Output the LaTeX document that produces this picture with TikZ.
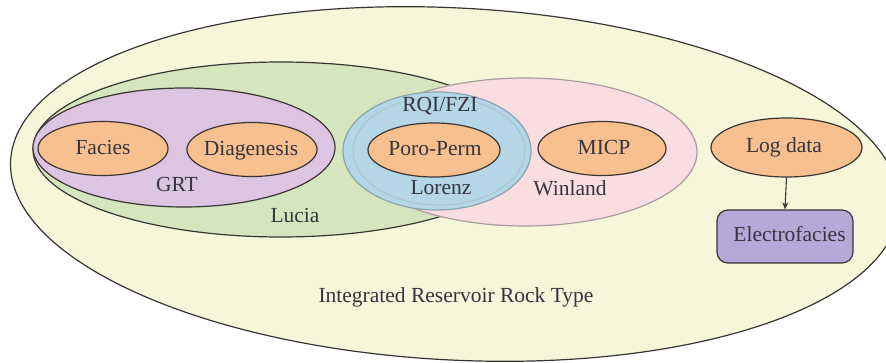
\documentclass[tikz,border=0pt]{standalone}
\usepackage{fontspec}
\setmainfont{Liberation Serif}
\usetikzlibrary{shapes.geometric,arrows.meta}
\definecolor{outerfill}{HTML}{F5F6DA}
\definecolor{luciafill}{HTML}{D5E6BE}
\definecolor{grtfill}{HTML}{DCC4E2}
\definecolor{pinkfill}{HTML}{F9DDE1}
\definecolor{bluefill}{HTML}{B4D6E6}
\definecolor{orangefill}{HTML}{F8C08F}
\definecolor{efill}{HTML}{B5A9D9}
\definecolor{txt}{HTML}{35343F}
\definecolor{dark}{HTML}{3A3535}
\definecolor{pinkline}{HTML}{A89C9E}
\definecolor{blueline}{HTML}{8AA5AE}
\definecolor{bluering}{HTML}{A8C4CC}
\begin{document}
\begin{tikzpicture}[x=1pt,y=-1pt,
  region/.style={ellipse, draw=dark, line width=1.2pt, inner sep=0pt},
  oval/.style={ellipse, draw=dark, fill=orangefill, line width=1.2pt, inner sep=0pt, minimum width=130pt, minimum height=54pt},
  lbl/.style={anchor=base, inner sep=0pt, text=txt, font=\fontsize{21.5}{24}\selectfont},
  boxstyle/.style={rectangle, rounded corners=11pt, draw=dark, fill=efill, line width=1.2pt, minimum width=136pt, minimum height=53pt, inner sep=0pt}
]
\useasboundingbox (0,0) rectangle (886,363);
\clip (0,0) rectangle (886,363);
\node[region, fill=outerfill, minimum width=890pt, minimum height=352pt, rotate=-3] (irrt) at (455,184) {};
\node[region, fill=luciafill, minimum width=496pt, minimum height=175pt] (lucia) at (281,149.5) {};
\node[region, fill=grtfill, minimum width=302pt, minimum height=119pt] (grt) at (184,147.5) {};
\node[region, draw=pinkline, fill=pinkfill, minimum width=344pt, minimum height=148pt] (winland) at (525,152) {};
\node[region, draw=blueline, fill=bluefill, minimum width=188pt, minimum height=118pt] (rqi) at (437,151) {};
\node[region, draw=bluering, line width=1pt, minimum width=172pt, minimum height=108pt] (lorenz) at (439,151) {};
\node[oval] (facies) at (103,148.5) {};
\node[oval] (diag) at (252,149.5) {};
\node[oval, minimum width=132pt] (poro) at (434,150) {};
\node[oval, minimum width=128pt] (micp) at (602,148.5) {};
\node[oval, minimum width=151pt, minimum height=59pt] (logd) at (786.5,147.5) {};
\node[boxstyle] (ef) at (785,236.5) {};
\draw[line width=1.1pt, draw=dark, -{Stealth[length=7pt,width=6pt]}] (logd.south) -- (ef.north);
\node[lbl] (tfacies) at (103,155) {Facies};
\node[lbl] (tdiag) at (251,156) {Diagenesis};
\node[lbl] (tgrt) at (177,192) {GRT};
\node[lbl] (tlucia) at (295,223) {Lucia};
\node[lbl] (trqi) at (440,112) {RQI/FZI};
\node[lbl] (tporo) at (435,156) {Poro-Perm};
\node[lbl] (tlorenz) at (441,195) {Lorenz};
\node[lbl] (twin) at (570,196) {Winland};
\node[lbl] (tmicp) at (604,155) {MICP};
\node[lbl] (tlog) at (784,153) {Log data};
\node[lbl] (tef) at (789.5,242) {Electrofacies};
\node[lbl] (tirrt) at (456,302) {Integrated Reservoir Rock Type};
\end{tikzpicture}
\end{document}
